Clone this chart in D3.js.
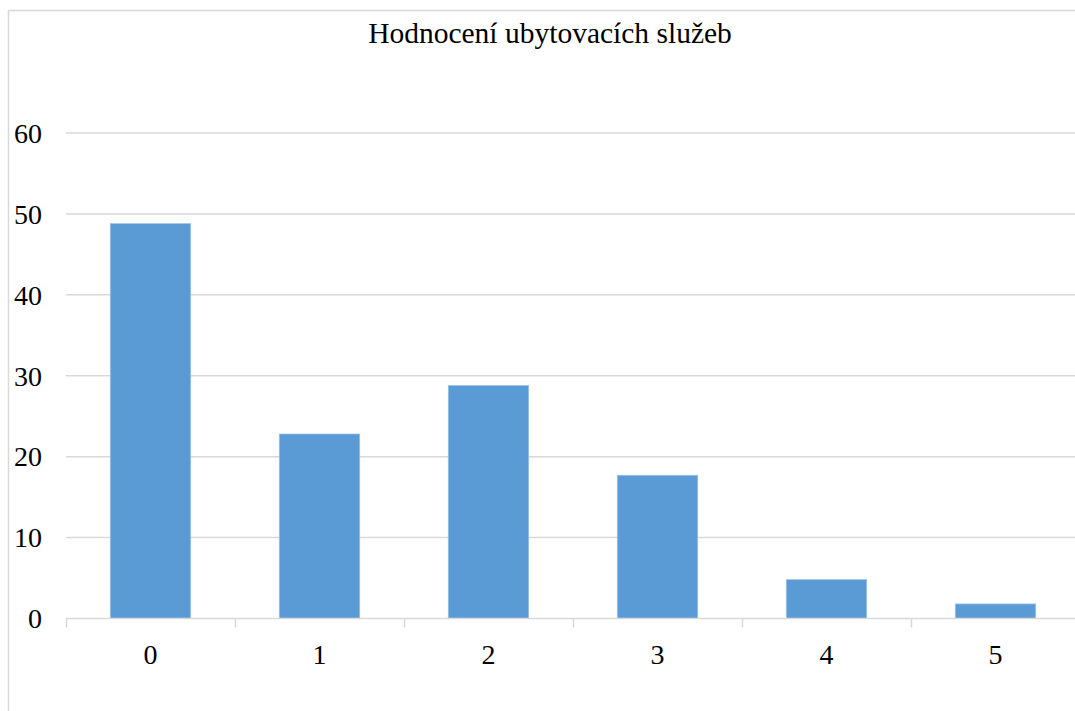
<!DOCTYPE html>
<html>
<head>
<meta charset="utf-8">
<script src="https://cdn.jsdelivr.net/npm/d3@7"></script>
<style>
  body { margin: 0; background: #fff; }
  svg { display: block; }
</style>
</head>
<body>
<svg id="chart"></svg>
<script>
// Data
const ratings = ["0", "1", "2", "3", "4", "5"];
const counts = [48.8, 22.8, 28.8, 17.7, 4.8, 1.8];
const yTicks = [0, 10, 20, 30, 40, 50, 60];
const title = "Hodnocení ubytovacích služeb";

const width = 1075;
const height = 711;
const font = "'Liberation Serif', 'Times New Roman', serif";
const gridColor = "#d9d9d9";

const svg = d3.select("#chart")
  .attr("width", width)
  .attr("height", height);

// chart frame (runs past the right and bottom of the window)
svg.append("rect")
  .attr("x", 8.5)
  .attr("y", 10.5)
  .attr("width", 1100)
  .attr("height", 750)
  .attr("fill", "#fff")
  .attr("stroke", gridColor)
  .attr("stroke-width", 1.5);

// Title
svg.append("text")
  .attr("x", 550)
  .attr("y", 43)
  .attr("text-anchor", "middle")
  .attr("font-family", font)
  .attr("font-size", 29.5)
  .attr("fill", "#000")
  .text(title);

//Scales
const x = d3.scaleBand()
  .domain(ratings)
  .range([66, 1080])
  .paddingInner(0.524)
  .paddingOuter(0.262);

const y = d3.scaleLinear()
  .domain([0, 60])
  .range([618.5, 133]);

//Gridlines
svg.append("g")
  .selectAll("line")
  .data(yTicks.filter(d => d > 0))
  .enter()
  .append("line")
  .attr("x1", 66)
  .attr("x2", 1080)
  .attr("y1", d => y(d))
  .attr("y2", d => y(d))
  .attr("stroke", gridColor)
  .attr("stroke-width", 1.5);

//Y labels
svg.append("g")
  .selectAll("text")
  .data(yTicks)
  .enter()
  .append("text")
  .attr("x", 42)
  .attr("y", d => y(d))
  .attr("dy", "0.35em")
  .attr("text-anchor", "end")
  .attr("font-family", font)
  .attr("font-size", 28)
  .attr("fill", "#000")
  .text(d => d);

//Bars
svg.append("g")
  .selectAll("rect")
  .data(counts)
  .enter()
  .append("rect")
  .attr("x", (d, i) => x(ratings[i]))
  .attr("y", d => y(d))
  .attr("width", x.bandwidth())
  .attr("height", d => y(0) - y(d))
  .attr("fill", "#5b9bd5")
  .attr("stroke", "#9dc3e6")
  .attr("stroke-width", 0.75);

//X axis line and boundary ticks
const xAxis = svg.append("g");
xAxis.append("line")
  .attr("x1", 66)
  .attr("x2", 1080)
  .attr("y1", y(0))
  .attr("y2", y(0))
  .attr("stroke", gridColor)
  .attr("stroke-width", 1.5);

const half = x.step() * x.paddingInner() / 2;
xAxis.selectAll(".tick-mark")
  .data(ratings)
  .enter()
  .append("line")
  .attr("class", "tick-mark")
  .attr("x1", d => Math.round(x(d) - half) + 0.5)
  .attr("x2", d => Math.round(x(d) - half) + 0.5)
  .attr("y1", y(0))
  .attr("y2", y(0) + 9)
  .attr("stroke", gridColor)
  .attr("stroke-width", 1.5);

//X labels
xAxis.selectAll(".x-label")
  .data(ratings)
  .enter()
  .append("text")
  .attr("class", "x-label")
  .attr("x", d => x(d) + x.bandwidth() / 2)
  .attr("y", 664)
  .attr("text-anchor", "middle")
  .attr("font-family", font)
  .attr("font-size", 28)
  .attr("fill", "#000")
  .text(d => d);
</script>
</body>
</html>
